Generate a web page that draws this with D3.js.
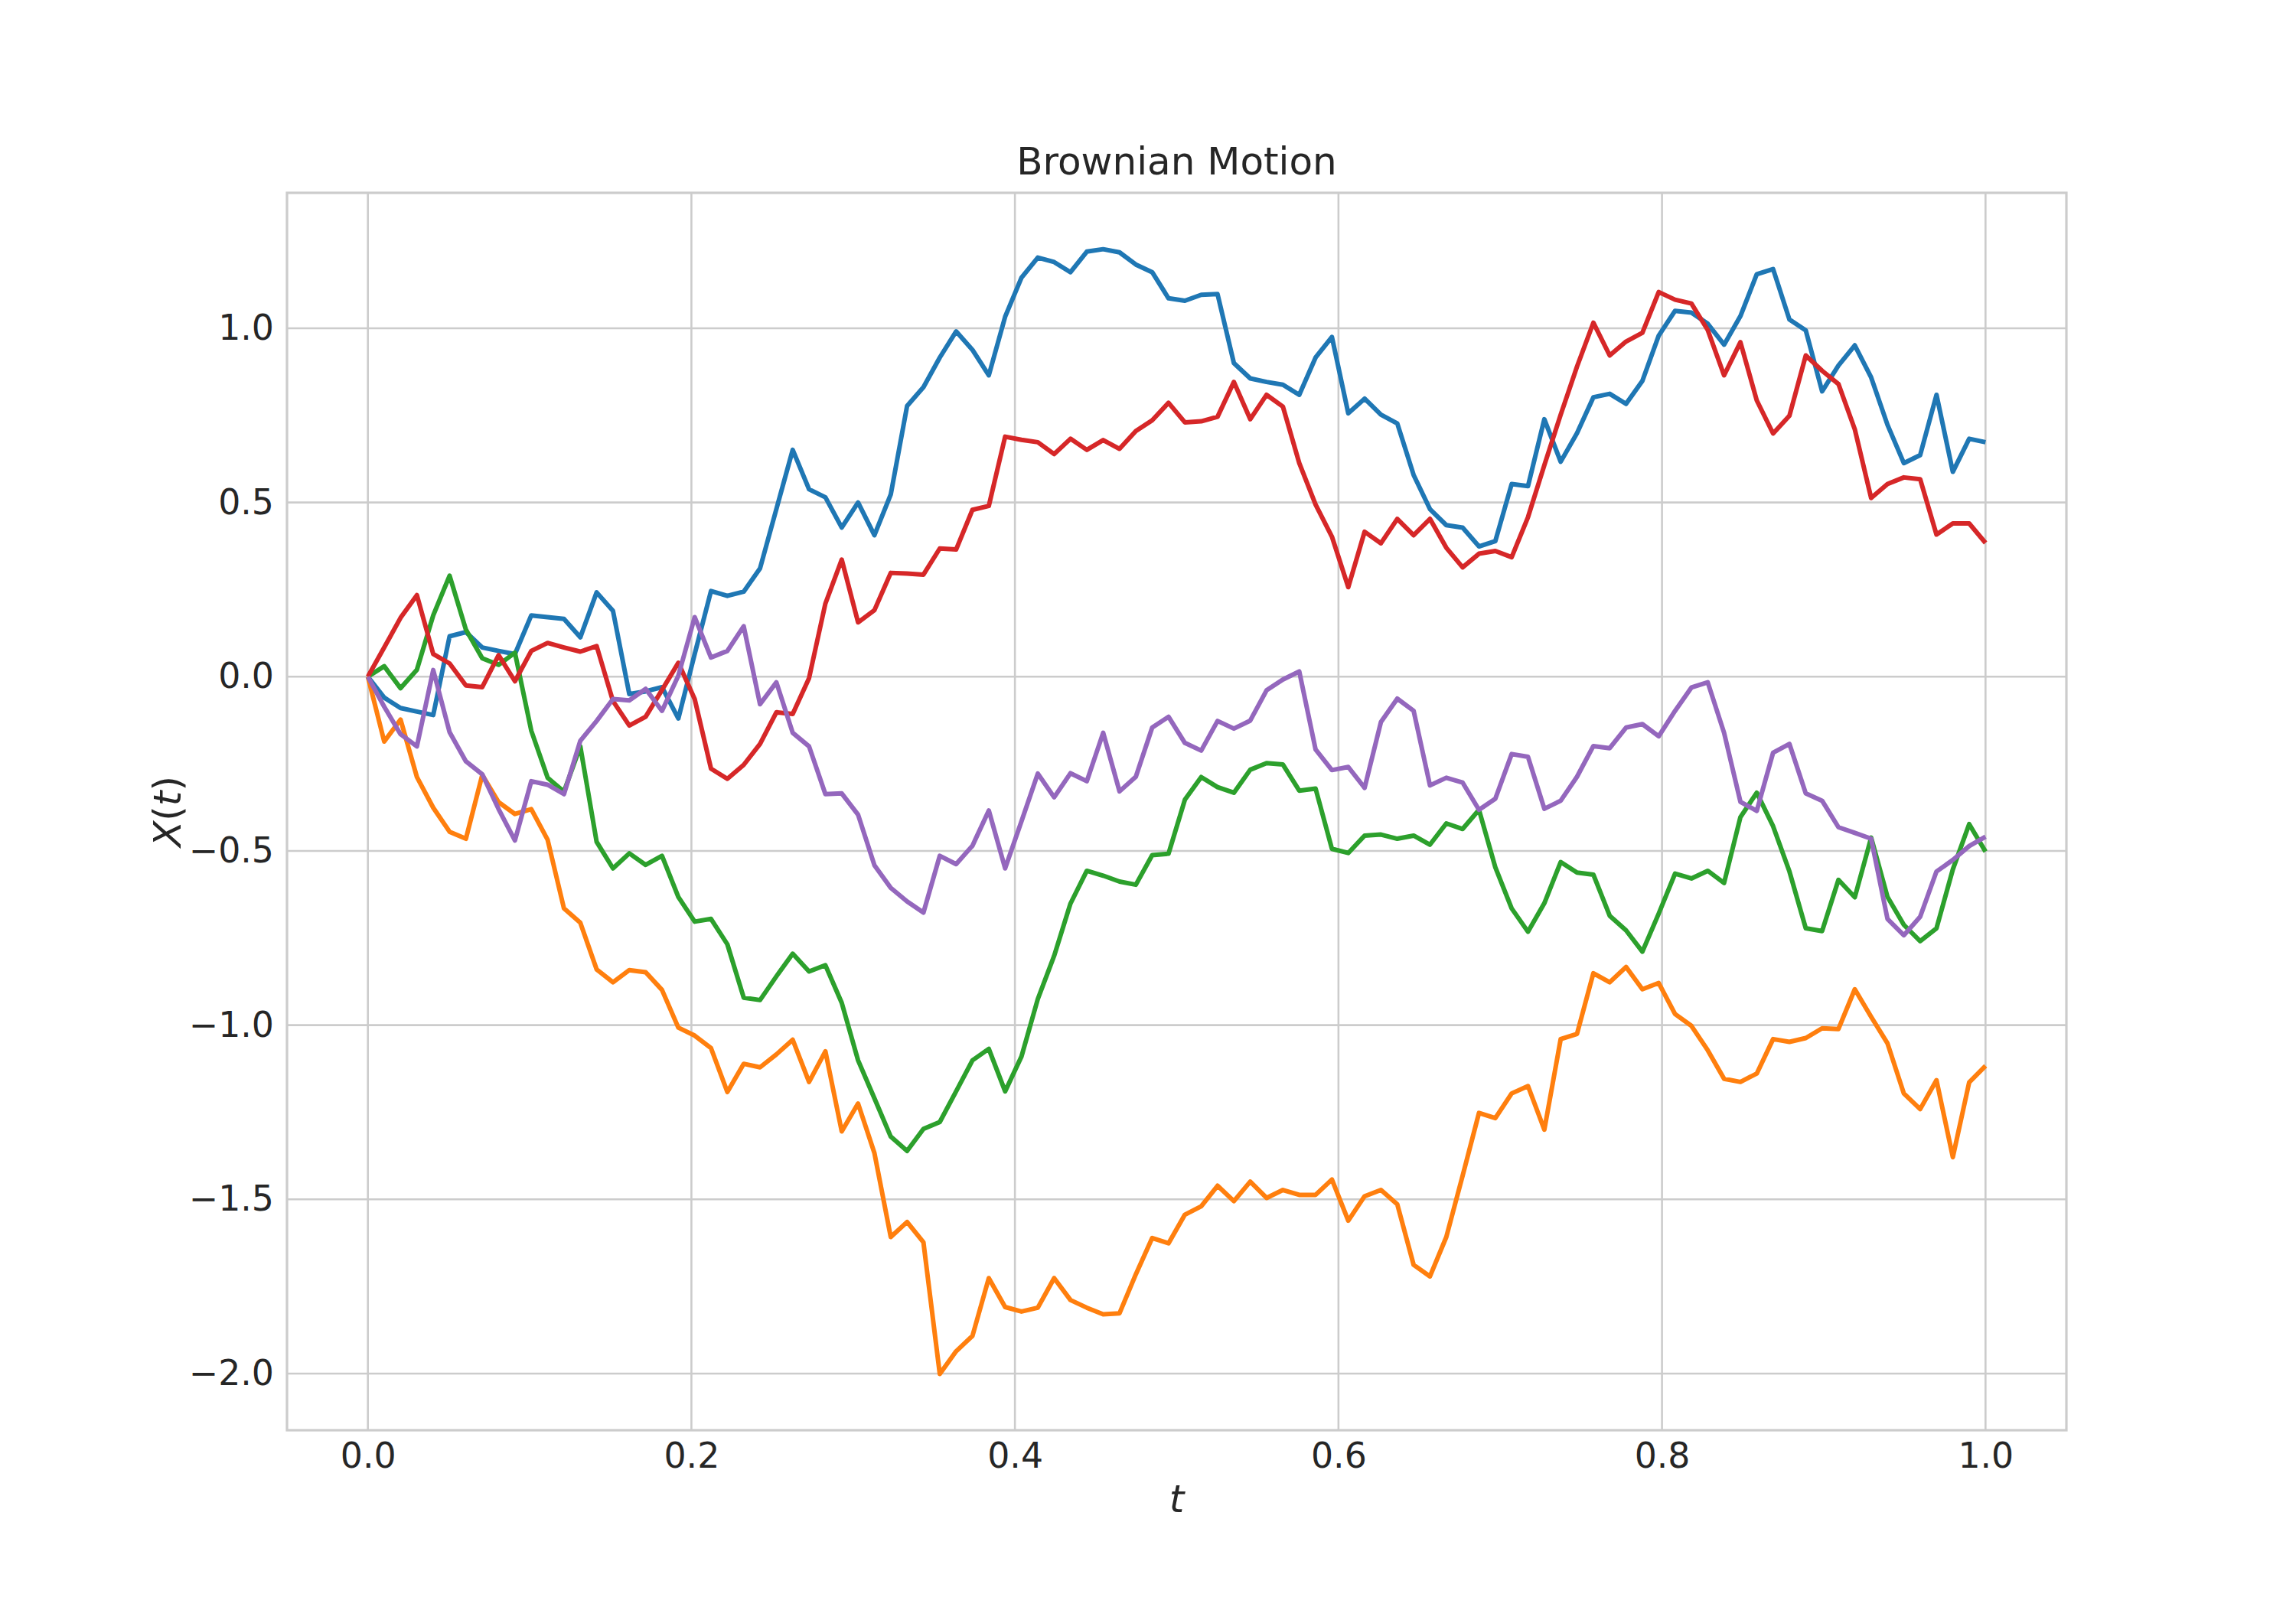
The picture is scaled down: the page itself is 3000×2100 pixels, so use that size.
<!DOCTYPE html>
<html>
<head>
<meta charset="utf-8">
<script src="https://cdn.jsdelivr.net/npm/d3@7"></script>
<style>
body { margin: 0; background: #fff; }
</style>
</head>
<body>
<svg id="chart" width="3000" height="2100"></svg>
<script>
// five sample paths, 100 samples each on t = 0 .. 1
var path1 = [0, -0.06, -0.09, -0.10, -0.11, 0.116, 0.128, 0.084, 0.074, 0.065,
	0.176, 0.171, 0.166, 0.113, 0.242, 0.189, -0.05, -0.042, -0.03, -0.12,
	0.065, 0.246, 0.232, 0.244, 0.311, 0.481, 0.651, 0.538, 0.515, 0.428,
	0.5, 0.406, 0.523, 0.777, 0.831, 0.916, 0.991, 0.938, 0.865, 1.033,
	1.145, 1.203, 1.19, 1.161, 1.22, 1.227, 1.218, 1.183, 1.161, 1.086,
	1.079, 1.096, 1.098, 0.9, 0.856, 0.846, 0.838, 0.809, 0.916, 0.975,
	0.756, 0.798, 0.752, 0.727, 0.579, 0.481, 0.435, 0.428, 0.374, 0.389,
	0.553, 0.547, 0.739, 0.617, 0.699, 0.802, 0.812, 0.783, 0.849, 0.979,
	1.05, 1.045, 1.013, 0.953, 1.035, 1.155, 1.17, 1.025, 0.994, 0.819,
	0.893, 0.951, 0.859, 0.723, 0.613, 0.636, 0.809, 0.588, 0.683, 0.673];

var path2 = [0, -0.186, -0.123, -0.288, -0.376, -0.445, -0.465, -0.282, -0.36, -0.394,
	-0.38, -0.468, -0.665, -0.706, -0.84, -0.877, -0.842, -0.848, -0.899, -1.007,
	-1.03, -1.066, -1.192, -1.111, -1.121, -1.084, -1.042, -1.163, -1.075, -1.305,
	-1.225, -1.367, -1.608, -1.565, -1.623, -2.001, -1.936, -1.892, -1.726, -1.809,
	-1.822, -1.811, -1.726, -1.789, -1.811, -1.83, -1.827, -1.715, -1.611, -1.626,
	-1.544, -1.52, -1.461, -1.505, -1.449, -1.496, -1.473, -1.487, -1.487, -1.443,
	-1.561, -1.491, -1.473, -1.514, -1.688, -1.721, -1.608, -1.432, -1.252, -1.267,
	-1.196, -1.175, -1.3, -1.04, -1.025, -0.851, -0.877, -0.833, -0.897, -0.879,
	-0.968, -1.002, -1.072, -1.154, -1.163, -1.139, -1.04, -1.048, -1.037, -1.009,
	-1.011, -0.897, -0.976, -1.052, -1.196, -1.241, -1.158, -1.379, -1.164, -1.117];

var path3 = [0, 0.03, -0.033, 0.02, 0.176, 0.29, 0.135, 0.053, 0.034, 0.069,
	-0.155, -0.29, -0.33, -0.2, -0.474, -0.55, -0.507, -0.54, -0.514, -0.632,
	-0.703, -0.695, -0.768, -0.921, -0.928, -0.86, -0.795, -0.846, -0.828, -0.936,
	-1.101, -1.21, -1.32, -1.361, -1.298, -1.278, -1.19, -1.101, -1.068, -1.19,
	-1.09, -0.925, -0.801, -0.651, -0.557, -0.571, -0.588, -0.597, -0.512, -0.508,
	-0.353, -0.288, -0.317, -0.333, -0.267, -0.248, -0.252, -0.327, -0.321, -0.494,
	-0.506, -0.456, -0.453, -0.465, -0.456, -0.482, -0.421, -0.437, -0.382, -0.547,
	-0.665, -0.732, -0.65, -0.532, -0.562, -0.568, -0.686, -0.728, -0.789, -0.68,
	-0.565, -0.579, -0.557, -0.592, -0.403, -0.333, -0.429, -0.559, -0.722, -0.73,
	-0.583, -0.633, -0.462, -0.632, -0.712, -0.759, -0.722, -0.553, -0.423, -0.502];

var path4 = [0, 0.084, 0.169, 0.234, 0.065, 0.038, -0.025, -0.03, 0.062, -0.013,
	0.074, 0.097, 0.084, 0.072, 0.088, -0.07, -0.14, -0.115, -0.038, 0.04,
	-0.064, -0.264, -0.293, -0.253, -0.193, -0.102, -0.107, -0.004, 0.21, 0.336,
	0.156, 0.191, 0.298, 0.296, 0.293, 0.368, 0.365, 0.479, 0.49, 0.689,
	0.68, 0.673, 0.639, 0.683, 0.651, 0.679, 0.654, 0.705, 0.736, 0.786,
	0.73, 0.733, 0.746, 0.846, 0.739, 0.809, 0.775, 0.613, 0.494, 0.402,
	0.257, 0.416, 0.383, 0.453, 0.406, 0.453, 0.37, 0.314, 0.353, 0.361,
	0.343, 0.458, 0.607, 0.752, 0.89, 1.016, 0.922, 0.962, 0.987, 1.104,
	1.082, 1.071, 0.995, 0.865, 0.96, 0.793, 0.698, 0.749, 0.922, 0.878,
	0.84, 0.71, 0.513, 0.553, 0.572, 0.567, 0.408, 0.44, 0.44, 0.384];

var path5 = [0, -0.086, -0.165, -0.2, 0.019, -0.159, -0.243, -0.28, -0.38, -0.47,
	-0.30, -0.31, -0.337, -0.184, -0.127, -0.064, -0.068, -0.035, -0.098, 0.003,
	0.171, 0.055, 0.074, 0.145, -0.079, -0.016, -0.161, -0.2, -0.337, -0.335,
	-0.396, -0.541, -0.606, -0.645, -0.677, -0.514, -0.538, -0.485, -0.384, -0.55,
	-0.415, -0.278, -0.346, -0.277, -0.3, -0.161, -0.329, -0.287, -0.146, -0.115,
	-0.19, -0.212, -0.127, -0.149, -0.126, -0.039, -0.008, 0.015, -0.209, -0.268,
	-0.259, -0.319, -0.13, -0.063, -0.098, -0.312, -0.29, -0.304, -0.382, -0.35,
	-0.222, -0.23, -0.379, -0.356, -0.287, -0.199, -0.205, -0.146, -0.136, -0.171,
	-0.098, -0.031, -0.016, -0.161, -0.359, -0.385, -0.218, -0.193, -0.335, -0.356,
	-0.432, -0.448, -0.465, -0.695, -0.742, -0.689, -0.559, -0.526, -0.486, -0.459];

var paths = [path1, path2, path3, path4, path5];
var colors = ["#1f77b4", "#ff7f0e", "#2ca02c", "#d62728", "#9467bd"];

var xTicks = [0, 0.2, 0.4, 0.6, 0.8, 1.0];
var yTicks = [-2.0, -1.5, -1.0, -0.5, 0.0, 0.5, 1.0];

var titleText = "Brownian Motion";

// axes box (matplotlib default subplot params on a 3000x2100 figure)
// note: "top" is taken by window.top, so use ax* names
var axLeft = 375, axRight = 2700, axTop = 252, axBottom = 1869;
var textColor = "#262626";
var gridColor = "#cccccc";
var fontFamily = "DejaVu Sans";

var xScale = d3.scaleLinear().domain([-0.05, 1.05]).range([axLeft, axRight]);
var yScale = d3.scaleLinear().domain([-2.1626, 1.3887]).range([axBottom, axTop]);

var svg = d3.select("#chart");

function fmt(v) {
	return d3.format(".1f")(v).replace("-", "\u2212");
}

// grid
var gridGroup = svg.append("g").attr("id", "grid");

gridGroup.selectAll("line.gx")
	.data(xTicks)
	.enter()
	.append("line")
	.attr("class", "gx")
	.attr("x1", function(d) {return xScale(d);})
	.attr("x2", function(d) {return xScale(d);})
	.attr("y1", axTop)
	.attr("y2", axBottom)
	.attr("stroke", gridColor)
	.attr("stroke-width", 2.6);

gridGroup.selectAll("line.gy")
	.data(yTicks)
	.enter()
	.append("line")
	.attr("class", "gy")
	.attr("x1", axLeft)
	.attr("x2", axRight)
	.attr("y1", function(d) {return yScale(d);})
	.attr("y2", function(d) {return yScale(d);})
	.attr("stroke", gridColor)
	.attr("stroke-width", 2.6);

// axes with no tick marks, only labels
var xAxis = d3.axisBottom(xScale)
	.tickValues(xTicks)
	.tickSize(0)
	.tickPadding(16)
	.tickFormat(fmt);

var yAxis = d3.axisLeft(yScale)
	.tickValues(yTicks)
	.tickSize(0)
	.tickPadding(17)
	.tickFormat(fmt);

var gx = svg.append("g")
	.attr("transform", "translate(0," + axBottom + ")")
	.call(xAxis);

var gy = svg.append("g")
	.attr("transform", "translate(" + axLeft + ",0)")
	.call(yAxis);

[gx, gy].forEach(function(g) {
	g.select(".domain").remove();
	g.selectAll("text")
		.attr("font-family", fontFamily)
		.attr("font-size", 45.8)
		.attr("fill", textColor);
});

// sample paths
var line = d3.line()
	.x(function(d, i) {return xScale(i / (path1.length - 1));})
	.y(function(d) {return yScale(d);});

svg.append("g")
	.attr("id", "paths")
	.selectAll("path")
	.data(paths)
	.enter()
	.append("path")
	.attr("d", function(d) {return line(d);})
	.attr("fill", "none")
	.attr("stroke", function(d, i) {return colors[i];})
	.attr("stroke-width", 6)
	.attr("stroke-linejoin", "round")
	.attr("stroke-linecap", "butt");

// frame
svg.append("rect")
	.attr("x", axLeft)
	.attr("y", axTop)
	.attr("width", axRight - axLeft)
	.attr("height", axBottom - axTop)
	.attr("fill", "none")
	.attr("stroke", gridColor)
	.attr("stroke-width", 3.2);

// title and labels
svg.append("text")
	.attr("x", (axLeft + axRight) / 2)
	.attr("y", 228)
	.attr("text-anchor", "middle")
	.attr("font-family", fontFamily)
	.attr("font-size", 50)
	.attr("fill", textColor)
	.text(titleText);

svg.append("text")
	.attr("x", (axLeft + axRight) / 2)
	.attr("y", 1976)
	.attr("text-anchor", "middle")
	.attr("font-family", fontFamily)
	.attr("font-size", 50)
	.attr("font-style", "italic")
	.attr("fill", textColor)
	.text("t");

var ylab = svg.append("text")
	.attr("transform", "translate(236," + ((axTop + axBottom) / 2) + ") rotate(-90)")
	.attr("text-anchor", "middle")
	.attr("font-family", fontFamily)
	.attr("font-size", 50)
	.attr("fill", textColor);
ylab.append("tspan").attr("font-style", "italic").text("X");
ylab.append("tspan").text("(");
ylab.append("tspan").attr("font-style", "italic").text("t");
ylab.append("tspan").text(")");
</script>
</body>
</html>
